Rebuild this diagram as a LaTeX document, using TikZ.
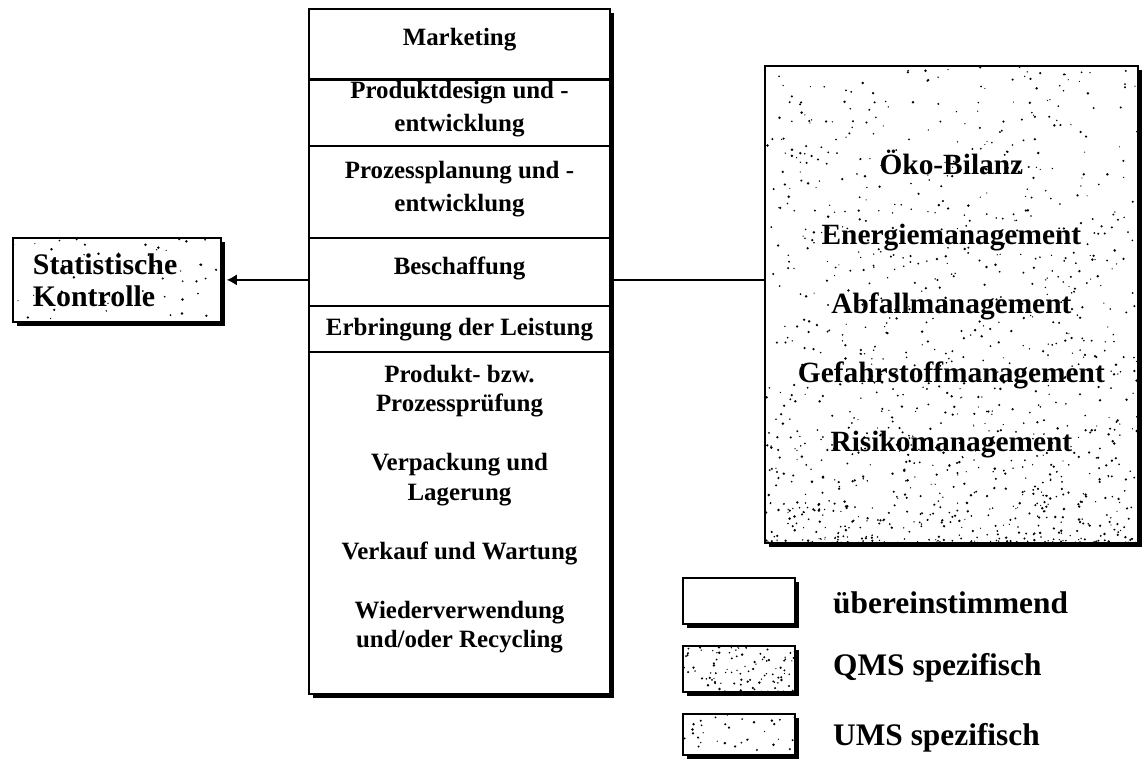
\documentclass[tikz,border=0pt]{standalone}
\usepackage{fontspec}
\setmainfont{Liberation Serif}
\usetikzlibrary{arrows.meta,shadows}
\newdimen\stipxa \newdimen\stipya \newdimen\stipxb \newdimen\stipyb

\begin{document}
\begin{tikzpicture}[x=1bp,y=-1bp,
  box/.style={draw, line width=1.8bp, fill=white, inner sep=0pt},
  shadowed/.style={drop shadow={shadow xshift=4bp, shadow yshift=-4bp, opacity=1, fill=black}},
  cell/.style={draw, line width=1.6bp, minimum width=301bp, inner sep=0pt, anchor=north},
  celltext/.style={inner sep=0pt, align=center, font=\bfseries\fontsize{25}{33}\selectfont},
  legendtext/.style={inner sep=0pt, anchor=west, font=\bfseries\fontsize{31.5}{36}\selectfont},
  link/.style={line width=1.3bp},
  % random speckle fill: #1 dots, #2 exponent (>1 packs them towards the bottom)
  stipple/.style 2 args={path picture={
    \pgfextractx{\stipxa}{\pgfpointanchor{path picture bounding box}{south west}}
    \pgfextracty{\stipya}{\pgfpointanchor{path picture bounding box}{south west}}
    \pgfextractx{\stipxb}{\pgfpointanchor{path picture bounding box}{north east}}
    \pgfextracty{\stipyb}{\pgfpointanchor{path picture bounding box}{north east}}
    \foreach \k in {1,...,#1}{
      \pgfmathsetmacro\px{\stipxa+rnd*(\stipxb-\stipxa)}
      \pgfmathsetmacro\py{\stipya+(rnd^#2)*(\stipyb-\stipya)}
      \pgfmathsetmacro\pr{0.6+0.8*rnd}
      \fill[black] (\px pt,\py pt) circle[radius=\pr pt];
    }}},
]
\pgfmathsetseed{4711}
\useasboundingbox (0,0) rectangle (1142,759);

% process column
\node[box, shadowed, minimum width=301bp, minimum height=685bp, anchor=north] (col) at (459.5,8) {};
\node[cell, minimum height=70bp]  (c1) at (459.5,8)   {};
\node[cell, minimum height=67bp]  (c2) at (459.5,78)  {};
\node[cell, minimum height=92bp]  (c3) at (459.5,145) {};
\node[cell, minimum height=68bp]  (c4) at (459.5,237) {};
\node[cell, minimum height=46bp]  (c5) at (459.5,305) {};
\node[cell, minimum height=342bp] (c6) at (459.5,351) {};
\draw[line width=3bp] (c1.south west) -- (c1.south east);

\node[celltext] (t1) at (459.5,40)    {Marketing};
\node[celltext] (t2) at (459.5,109.5) {Produktdesign und -\\entwicklung};
\node[celltext] (t3) at (459.5,189.5) {Prozessplanung und -\\entwicklung};
\node[celltext] (t4) at (459.5,268)   {Beschaffung};
\node[celltext] (t5) at (459.5,330)   {Erbringung der Leistung};
\node[celltext, font=\bfseries\fontsize{25}{29.6}\selectfont] (t6) at (459.5,509)
  {Produkt- bzw.\\Prozessprüfung\\[29.6bp]Verpackung und\\Lagerung\\[29.6bp]Verkauf und Wartung\\[29.6bp]Wiederverwendung\\und/oder Recycling};

% statistical control
\node[box, shadowed, stipple={50}{1}, anchor=north west, minimum height=84bp,
      text width=168bp, inner xsep=20bp, align=left,
      font=\bfseries\fontsize{30}{32}\selectfont] (stat) at (12,237)
  {Statistische\\Kontrolle};

% environmental management block
\node[box, shadowed, stipple={1150}{1.8}, anchor=north west, minimum width=373bp,
      minimum height=477bp, align=center,
      font=\bfseries\fontsize{29.5}{69.5}\selectfont] (rbox) at (764,65)
  {Öko-Bilanz\\Energiemanagement\\Abfallmanagement\\Gefahrstoffmanagement\\Risikomanagement};

% connectors
\draw[link, -{Latex[length=10bp,width=11bp]}, shorten >=5bp] (col.west |- stat.east) -- (stat.east);
\draw[link] (col.east |- stat.east) -- (rbox.west |- stat.east);

% legend
\node[box, shadowed, anchor=north west, minimum width=112bp, minimum height=46bp] (leg1) at (682,577) {};
\node[box, shadowed, stipple={95}{1}, anchor=north west, minimum width=112bp, minimum height=46bp] (leg2) at (682,645) {};
\node[box, shadowed, stipple={32}{1}, anchor=north west, minimum width=112bp, minimum height=41bp] (leg3) at (682,713) {};
\node[legendtext] (l1) at (833,603) {übereinstimmend};
\node[legendtext] (l2) at (833,668) {QMS spezifisch};
\node[legendtext] (l3) at (833,738) {UMS spezifisch};
\end{tikzpicture}
\end{document}
